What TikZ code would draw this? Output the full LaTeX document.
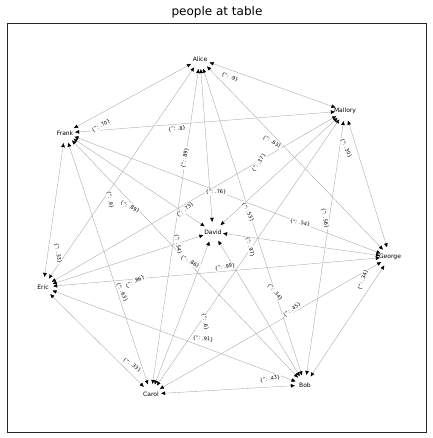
\documentclass[tikz,border=0pt]{standalone}
\usepackage{fontspec}
\setmainfont{DejaVu Sans}
\usetikzlibrary{arrows.meta}
\begin{document}
\begin{tikzpicture}[x=1pt,y=-1pt,
  vtx/.style={circle,minimum size=20pt,inner sep=0pt},
  vname/.style={font=\fontsize{6}{7}\selectfont,inner sep=0pt},
  edge/.style={draw=gray!65,line width=0.4pt,
    {Triangle[length=4pt,width=3.5pt,color=black]}-{Triangle[length=4pt,width=3.5pt,color=black]}},
  elab/.style={font=\fontsize{5}{6}\selectfont,inner sep=0.6pt,fill=white}]
\useasboundingbox (0,0) rectangle (432,438);
\draw[line width=0.8pt,draw=black!85] (7.5,23.5) rectangle (426.5,432);
\node[font=\fontsize{12}{14}\selectfont] (title) at (217,12) {people at table};
% vertices
\node[vtx] (A) at (200,59) {};  \node[vname] (At) at (A) {Alice};
\node[vtx] (M) at (345,111) {}; \node[vname] (Mt) at (M) {Mallory};
\node[vtx] (F) at (65,133) {};  \node[vname] (Ft) at (F) {Frank};
\node[vtx] (G) at (390,257) {}; \node[vname] (Gt) at (G) {George};
\node[vtx] (D) at (213,232) {}; \node[vname] (Dt) at (D) {David};
\node[vtx] (E) at (43,287) {};  \node[vname] (Et) at (E) {Eric};
\node[vtx] (C) at (151,394) {}; \node[vname] (Ct) at (C) {Carol};
\node[vtx] (B) at (305,385) {}; \node[vname] (Bt) at (B) {Bob};
% edges
\foreach \u/\v in {A/M,A/F,A/G,A/D,A/E,A/C,A/B,M/F,M/G,M/D,M/E,M/C,M/B,F/G,F/D,F/E,F/C,F/B,G/D,G/E,G/C,G/B,D/E,D/C,D/B,E/C,E/B,C/B}
  \draw[edge] (\u) -- (\v);
% edge labels
\node[elab,rotate=30]  (l1)  at (101,126) {\{'': .70\}};
\node[elab,rotate=-20] (l2)  at (230,77)  {\{'': .9\}};
\node[elab,rotate=5]   (l3)  at (177,129) {\{'': .8\}};
\node[elab,rotate=-30] (l4)  at (272,142) {\{'': .63\}};
\node[elab,rotate=-65] (l5)  at (346,148) {\{'': .30\}};
\node[elab,rotate=56]  (l6)  at (259,163) {\{'': .37\}};
\node[elab,rotate=80]  (l7)  at (185,158) {\{'': .89\}};
\node[elab,rotate=0]   (l8)  at (216,192) {\{'': .76\}};
\node[elab,rotate=-80] (l9)  at (110,200) {\{'': .9\}};
\node[elab,rotate=-25] (l10) at (130,207) {\{'': .89\}};
\node[elab,rotate=40]  (l11) at (185,210) {\{'': .73\}};
\node[elab,rotate=-63] (l12) at (248,212) {\{'': .53\}};
\node[elab,rotate=-10] (l13) at (300,223) {\{'': .54\}};
\node[elab,rotate=-80] (l14) at (325,218) {\{'': .56\}};
\node[elab,rotate=-80] (l15) at (58,253)  {\{'': .33\}};
\node[elab,rotate=-80] (l16) at (178,244) {\{'': .54\}};
\node[elab,rotate=-75] (l17) at (250,247) {\{'': .97\}};
\node[elab,rotate=-28] (l18) at (190,262) {\{'': .86\}};
\node[elab,rotate=10]  (l19) at (225,267) {\{'': .99\}};
\node[elab,rotate=28]  (l20) at (135,282) {\{'': .86\}};
\node[elab,rotate=-65] (l21) at (122,292) {\{'': .63\}};
\node[elab,rotate=70]  (l22) at (363,280) {\{'': .34\}};
\node[elab,rotate=-50] (l23) at (275,292) {\{'': .34\}};
\node[elab,rotate=37]  (l24) at (292,310) {\{'': .45\}};
\node[elab,rotate=-80] (l25) at (205,322) {\{'': .6\}};
\node[elab,rotate=-7]  (l26) at (203,339) {\{'': .91\}};
\node[elab,rotate=-35] (l27) at (132,365) {\{'': .33\}};
\node[elab,rotate=11]  (l28) at (270,379) {\{'': .43\}};
\end{tikzpicture}
\end{document}
